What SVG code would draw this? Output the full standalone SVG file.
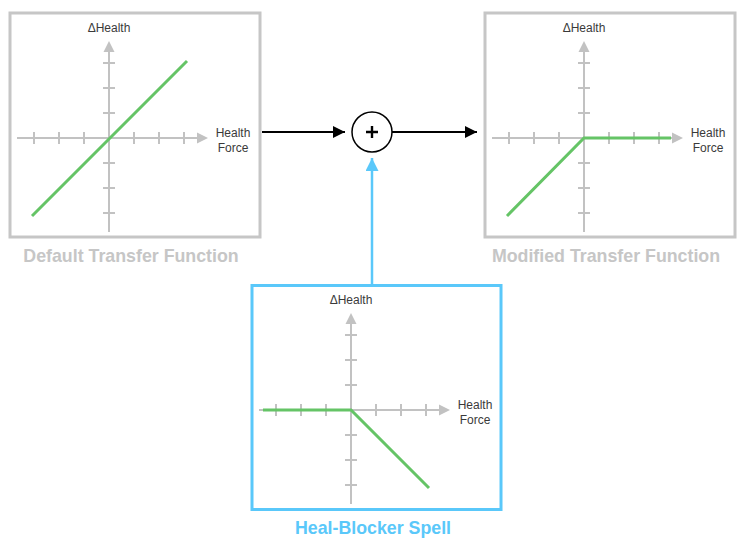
<svg xmlns="http://www.w3.org/2000/svg" width="744" height="543" viewBox="0 0 744 543">
<defs>
<style>
.box{fill:#fff;stroke:#c6c6c6;stroke-width:3}
.bbox{fill:#fff;stroke:#5ac8fa;stroke-width:3}
.axis{stroke:#c2c2c2;stroke-width:2;fill:none}
.ah{fill:#c2c2c2}
.fn{stroke:#65c466;stroke-width:3;fill:none;stroke-linecap:butt;stroke-linejoin:miter}
.lbl{font-family:"Liberation Sans",Arial,sans-serif;font-size:12px;fill:#3a3a3a}
.title{font-family:"Liberation Sans",Arial,sans-serif;font-weight:bold;font-size:17.8px;fill:#c6c6c6;text-anchor:middle}
.btitle{fill:#5ac8fa}
.conn{stroke:#000;stroke-width:2;fill:none}
.bconn{stroke:#5ac8fa;stroke-width:2.5;fill:none}
</style>
<g id="axes">
<path class="axis" d="M8 126H190M100 220V38M25 120v12M50 120v12M75 120v12M125 120v12M150 120v12M175 120v12M94 51h12M94 76h12M94 101h12M94 151h12M94 176h12M94 201h12"/>
<path class="ah" d="M199 126L188 120.5V131.5Z"/>
<path class="ah" d="M100 29L94.5 40H105.5Z"/>
<text class="lbl" x="100" y="20" text-anchor="middle">ΔHealth</text>
<text class="lbl" x="224" y="125" text-anchor="middle">Health</text>
<text class="lbl" x="224" y="140" text-anchor="middle">Force</text>
</g>
<marker id="ak" viewBox="0 0 12 12" refX="12" refY="6" markerWidth="12" markerHeight="12" markerUnits="userSpaceOnUse" orient="auto"><path d="M0 0L12 6L0 12Z" fill="#000"/></marker>
<marker id="ab" viewBox="0 0 13 13" refX="13" refY="6.5" markerWidth="13" markerHeight="13" markerUnits="userSpaceOnUse" orient="auto"><path d="M0 0L13 6.5L0 13Z" fill="#5ac8fa"/></marker>
</defs>
<rect width="744" height="543" fill="#fff"/>
<g id="default-transfer-function" transform="translate(9,12)">
<rect class="box" x="1" y="1" width="250" height="224"/>
<use href="#axes"/>
<path class="fn" d="M23 204L178 49"/>
<text class="title" x="122" y="250">Default Transfer Function</text>
</g>
<g id="modified-transfer-function" transform="translate(484,12)">
<rect class="box" x="1" y="1" width="250" height="224"/>
<use href="#axes"/>
<path class="fn" d="M23 204L100 126H187"/>
<text class="title" x="122" y="250">Modified Transfer Function</text>
</g>
<g id="heal-blocker-spell" transform="translate(251,284)">
<rect class="bbox" x="1" y="1.5" width="249" height="224"/>
<use href="#axes"/>
<path class="fn" d="M12 126H100L178 204"/>
<text class="title btitle" x="122" y="250">Heal-Blocker Spell</text>
</g>
<g id="sum">
<circle cx="372" cy="132" r="20" fill="#fff" stroke="#000" stroke-width="1.5"/>
<path d="M366 132h12M372 126v12" stroke="#000" stroke-width="2.4"/>
</g>
<g id="connectors">
<path class="conn" d="M262 132H345" marker-end="url(#ak)"/>
<path class="conn" d="M392 132H477" marker-end="url(#ak)"/>
<path class="bconn" d="M372 285V158" marker-end="url(#ab)"/>
</g>
</svg>
